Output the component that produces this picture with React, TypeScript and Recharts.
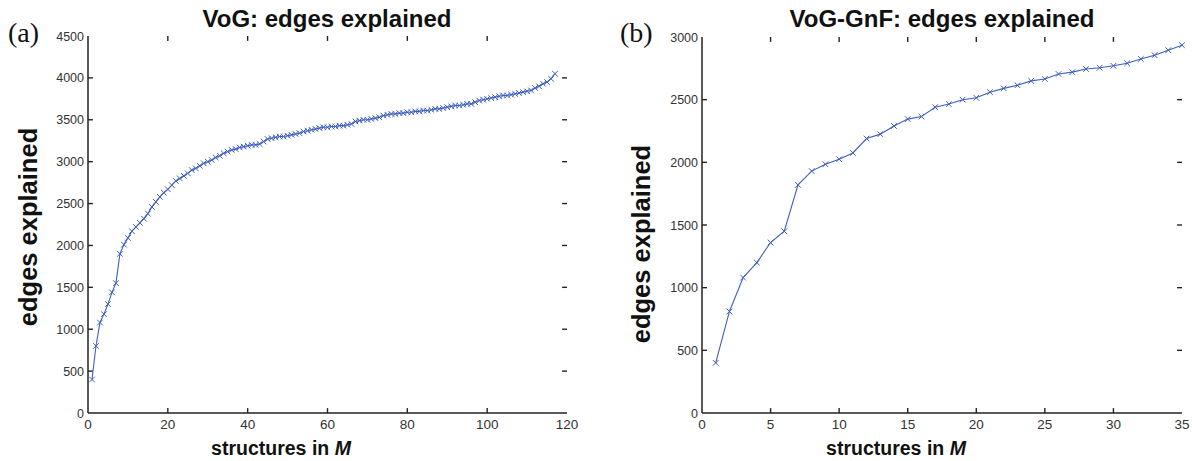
import React from 'react';
import { LineChart, Line, XAxis, YAxis, ReferenceLine } from 'recharts';

const vogValues = [
  400, 800, 1080, 1180, 1300, 1440, 1550, 1900, 2010, 2090,
  2170, 2220, 2270, 2320, 2380, 2460, 2520, 2580, 2630, 2670,
  2720, 2770, 2800, 2830, 2860, 2900, 2920, 2950, 2980, 3000,
  3020, 3050, 3070, 3100, 3120, 3140, 3150, 3170, 3180, 3190,
  3200, 3200, 3210, 3240, 3270, 3280, 3290, 3300, 3300, 3310,
  3320, 3330, 3340, 3360, 3370, 3380, 3390, 3400, 3410, 3410,
  3420, 3420, 3430, 3430, 3440, 3450, 3480, 3490, 3500, 3500,
  3510, 3520, 3530, 3550, 3560, 3570, 3570, 3580, 3580, 3590,
  3590, 3600, 3600, 3610, 3610, 3620, 3630, 3630, 3640, 3650,
  3660, 3670, 3670, 3680, 3690, 3690, 3710, 3730, 3740, 3750,
  3760, 3770, 3780, 3790, 3790, 3800, 3810, 3820, 3830, 3840,
  3850, 3880, 3900, 3930, 3950, 3990, 4050,
];

const gnfValues = [
  400, 810, 1080, 1200, 1360, 1450, 1820, 1930, 1985, 2025,
  2075, 2190, 2225, 2290, 2345, 2365, 2440, 2465, 2500, 2515,
  2560, 2590, 2615, 2650, 2665, 2705, 2720, 2745, 2755, 2770,
  2790, 2825, 2855, 2895, 2935,
];

const vogXTicks = [0, 20, 40, 60, 80, 100, 120];
const vogYTicks = [0, 500, 1000, 1500, 2000, 2500, 3000, 3500, 4000, 4500];
const gnfXTicks = [0, 5, 10, 15, 20, 25, 30, 35];
const gnfYTicks = [0, 500, 1000, 1500, 2000, 2500, 3000];

const vogData = vogValues.map((v, i) => ({ x: i + 1, y: v }));
const gnfData = gnfValues.map((v, i) => ({ x: i + 1, y: v }));

const BLUE = '#3f5fc0';
const AXIS = '#222';
const TICK_FRAC = 0.013;

const Cross = (props: any) => {
  const { cx, cy, index } = props;
  if (cx == null || cy == null) return <g key={`n${index}`} />;
  const s = 2.8;
  return (
    <g key={`c${index}`}>
      <line x1={cx - s} y1={cy - s} x2={cx + s} y2={cy + s} stroke={BLUE} strokeWidth={1} />
      <line x1={cx - s} y1={cy + s} x2={cx + s} y2={cy - s} stroke={BLUE} strokeWidth={1} />
    </g>
  );
};

const tickFont = '"Liberation Sans", Arial, sans-serif';
const narrowFont = '"Liberation Sans Narrow", "Liberation Sans", Arial, sans-serif';

const BottomTick = (p: any) => {
  const { x, y, payload, index } = p;
  return (
    <text key={`bt${index}`} x={x} y={y + 16} textAnchor="middle" fontSize={13.5} fill="#333" fontFamily={narrowFont}>
      {payload.value}
    </text>
  );
};

const LeftTick = (p: any) => {
  const { x, y, payload, index } = p;
  return (
    <text key={`lt${index}`} x={x - 4} y={y + 4.5} textAnchor="end" fontSize={12.5} fill="#333" fontFamily={tickFont}>
      {payload.value}
    </text>
  );
};

function Panel(props: {
  data: { x: number; y: number }[];
  xTicks: number[];
  yTicks: number[];
  width: number;
  left: number;
  right: number;
  top: number;
}) {
  const { data, xTicks, yTicks, width, left, right, top } = props;
  const xMax = xTicks[xTicks.length - 1];
  const yMax = yTicks[yTicks.length - 1];
  const dy = yMax * TICK_FRAC;
  const dx = xMax * TICK_FRAC * 0.79;
  const axisLine = { stroke: AXIS, strokeWidth: 1.5 };
  const innerX = xTicks.slice(1, -1);
  const innerY = yTicks.slice(1, -1);
  const common = { xAxisId: 'b', yAxisId: 'l', stroke: AXIS, strokeWidth: 1.4, ifOverflow: 'visible' as const };
  const bottomMarks = innerX.map((t) => (
    <ReferenceLine key={`xb${t}`} {...common} segment={[{ x: t, y: dy }, { x: t, y: 0 }]} />
  ));
  const topMarks = innerX.map((t) => (
    <ReferenceLine key={`xt${t}`} {...common} segment={[{ x: t, y: yMax - dy }, { x: t, y: yMax }]} />
  ));
  const leftMarks = innerY.map((t) => (
    <ReferenceLine key={`yl${t}`} {...common} segment={[{ x: dx, y: t }, { x: 0, y: t }]} />
  ));
  const rightMarks = innerY.map((t) => (
    <ReferenceLine key={`yr${t}`} {...common} segment={[{ x: xMax - dx, y: t }, { x: xMax, y: t }]} />
  ));
  return (
    <LineChart width={width} height={461} data={data} margin={{ top, right, bottom: 0, left: 0 }}>
      <XAxis
        xAxisId="b"
        dataKey="x"
        type="number"
        domain={[0, xMax]}
        ticks={xTicks}
        interval={0}
        height={48}
        tickSize={0}
        tickMargin={0}
        axisLine={axisLine}
        tickLine={false}
        tick={BottomTick}
      />
      <XAxis
        xAxisId="t"
        orientation="top"
        dataKey="x"
        type="number"
        domain={[0, xMax]}
        ticks={xTicks}
        height={0}
        axisLine={axisLine}
        tickLine={false}
        tick={false}
      />
      <YAxis
        yAxisId="l"
        type="number"
        domain={[0, yMax]}
        ticks={yTicks}
        interval={0}
        width={left}
        tickSize={0}
        tickMargin={0}
        axisLine={axisLine}
        tickLine={false}
        tick={LeftTick}
      />
      <YAxis
        yAxisId="r"
        orientation="right"
        type="number"
        domain={[0, yMax]}
        ticks={yTicks}
        width={0}
        axisLine={axisLine}
        tickLine={false}
        tick={false}
      />
      {topMarks}
      {rightMarks}
      {bottomMarks}
      {leftMarks}
      <Line
        xAxisId="b"
        yAxisId="l"
        dataKey="y"
        stroke={BLUE}
        strokeWidth={1.1}
        dot={Cross}
        activeDot={false}
        isAnimationActive={false}
      />
    </LineChart>
  );
}

const titleStyle: React.CSSProperties = {
  fontFamily: '"Liberation Sans", Arial, sans-serif',
  fontWeight: 'bold',
};

export default function App() {
  return (
    <div style={{ position: 'absolute', left: 0, top: 0, width: 1192, height: 461, background: '#fff' }}>
      <div style={{ position: 'absolute', left: 0, top: 0 }}>
        <Panel data={vogData} xTicks={vogXTicks} yTicks={vogYTicks} width={600} left={88} right={33} top={36} />
      </div>
      <div style={{ position: 'absolute', left: 600, top: 0 }}>
        <Panel data={gnfData} xTicks={gnfXTicks} yTicks={gnfYTicks} width={592} left={102} right={10} top={37} />
      </div>
      <svg width={1192} height={461} style={{ position: 'absolute', left: 0, top: 0, pointerEvents: 'none' }}>
        <text x={8} y={42} fontFamily='"Liberation Serif", "Times New Roman", serif' fontSize={28} fill="#111">(a)</text>
        <text x={620} y={42} fontFamily='"Liberation Serif", "Times New Roman", serif' fontSize={28} fill="#111">(b)</text>
        <text x={327} y={27} textAnchor="middle" fontSize={24} style={titleStyle} fill="#111">VoG: edges explained</text>
        <text x={942} y={27} textAnchor="middle" fontSize={24} style={titleStyle} fill="#111">VoG-GnF: edges explained</text>
        <text x={37} y={227} textAnchor="middle" fontSize={25.5} style={titleStyle} fill="#111" transform="rotate(-90 37 227)">edges explained</text>
        <text x={650} y={244} textAnchor="middle" fontSize={25.5} style={titleStyle} fill="#111" transform="rotate(-90 650 244)">edges explained</text>
        <text x={281} y={455} textAnchor="middle" fontSize={19.5} style={titleStyle} fill="#111">
          structures in <tspan fontStyle="italic">M</tspan>
        </text>
        <text x={896} y={455} textAnchor="middle" fontSize={19.5} style={titleStyle} fill="#111">
          structures in <tspan fontStyle="italic">M</tspan>
        </text>
      </svg>
    </div>
  );
}
